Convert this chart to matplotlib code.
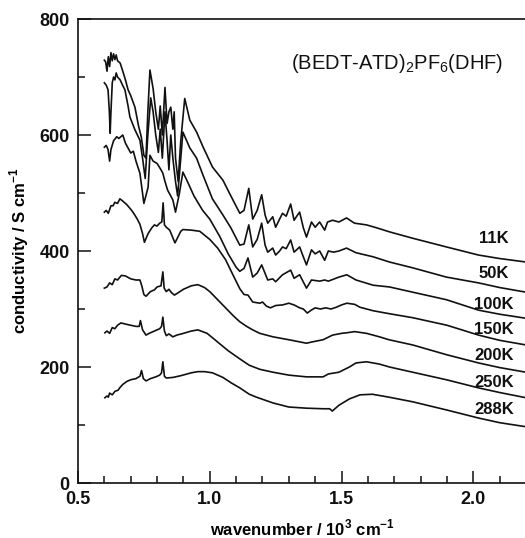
import numpy as np
import matplotlib
matplotlib.use("Agg")
import matplotlib.pyplot as plt

# (wavenumber / 10^3 cm^-1, conductivity / S cm^-1)
k11 = [(0.600, 729), (0.605, 726), (0.610, 710), (0.615, 735), (0.620, 718), (0.625, 742),
       (0.630, 728), (0.635, 740), (0.640, 730), (0.645, 738), (0.650, 728), (0.660, 724),
       (0.670, 710), (0.680, 695), (0.690, 678), (0.700, 668), (0.716, 648), (0.730, 615),
       (0.740, 597), (0.750, 565), (0.758, 560), (0.765, 640), (0.773, 712), (0.785, 680),
       (0.795, 640), (0.805, 610), (0.812, 650), (0.820, 600), (0.830, 682), (0.838, 620),
       (0.845, 640), (0.852, 648), (0.860, 610), (0.865, 640), (0.870, 560), (0.880, 520),
       (0.890, 590), (0.905, 663), (0.924, 626), (0.950, 605), (0.975, 579), (1.010, 545),
       (1.050, 522), (1.080, 495), (1.114, 465), (1.130, 470), (1.148, 508), (1.163, 455),
       (1.180, 470), (1.197, 497), (1.210, 462), (1.220, 448), (1.239, 459), (1.250, 441),
       (1.265, 455), (1.276, 465), (1.290, 460), (1.307, 481), (1.320, 453), (1.330, 460),
       (1.341, 467), (1.355, 440), (1.367, 424), (1.386, 450), (1.400, 441), (1.417, 450),
       (1.436, 436), (1.447, 450), (1.466, 453), (1.490, 450), (1.519, 457), (1.549, 448),
       (1.595, 445), (1.633, 440), (1.682, 433), (1.770, 422), (1.898, 407), (2.020, 393),
       (2.100, 387), (2.200, 381)]

k50 = [(0.600, 690), (0.607, 686), (0.614, 678), (0.619, 640), (0.622, 603), (0.625, 640),
       (0.630, 690), (0.635, 700), (0.640, 695), (0.645, 707), (0.650, 700), (0.660, 695),
       (0.670, 685), (0.678, 678), (0.690, 650), (0.697, 631), (0.716, 609), (0.735, 591),
       (0.745, 560), (0.755, 525), (0.765, 600), (0.776, 664), (0.785, 640), (0.795, 600),
       (0.805, 570), (0.812, 610), (0.820, 560), (0.830, 640), (0.838, 590), (0.845, 540),
       (0.852, 600), (0.860, 560), (0.870, 520), (0.878, 495), (0.890, 560), (0.898, 605),
       (0.924, 578), (0.950, 560), (0.975, 530), (1.010, 490), (1.050, 462), (1.080, 440),
       (1.114, 410), (1.130, 412), (1.148, 445), (1.163, 407), (1.180, 420), (1.197, 448),
       (1.210, 410), (1.220, 398), (1.239, 405), (1.250, 393), (1.265, 400), (1.276, 407),
       (1.290, 404), (1.307, 419), (1.320, 398), (1.341, 407), (1.355, 390), (1.367, 376),
       (1.386, 402), (1.400, 395), (1.417, 400), (1.436, 384), (1.450, 400), (1.470, 398),
       (1.490, 400), (1.519, 405), (1.555, 397), (1.620, 390), (1.682, 381), (1.770, 371),
       (1.898, 355), (2.020, 345), (2.100, 337), (2.200, 329)]

k100 = [(0.600, 579), (0.607, 582), (0.614, 575), (0.620, 555), (0.625, 575), (0.635, 590),
        (0.647, 597), (0.655, 594), (0.670, 600), (0.680, 586), (0.700, 569), (0.710, 572),
        (0.720, 555), (0.735, 534), (0.750, 482), (0.766, 510), (0.773, 565), (0.785, 555),
        (0.800, 551), (0.815, 540), (0.822, 534), (0.830, 520), (0.840, 505), (0.860, 488),
        (0.870, 467), (0.885, 500), (0.898, 536), (0.913, 522), (0.940, 495), (0.973, 470),
        (1.000, 455), (1.038, 425), (1.070, 395), (1.100, 372), (1.114, 365), (1.130, 370),
        (1.145, 388), (1.163, 355), (1.180, 362), (1.197, 376), (1.220, 350), (1.239, 352),
        (1.250, 347), (1.276, 359), (1.307, 367), (1.320, 353), (1.341, 359), (1.367, 336),
        (1.386, 350), (1.417, 348), (1.436, 350), (1.450, 348), (1.490, 355), (1.520, 359),
        (1.555, 350), (1.620, 341), (1.682, 338), (1.770, 329), (1.898, 316), (2.020, 298),
        (2.100, 291), (2.200, 284)]

k150 = [(0.600, 467), (0.607, 470), (0.615, 465), (0.625, 478), (0.633, 478), (0.640, 484),
        (0.650, 482), (0.659, 490), (0.670, 486), (0.685, 480), (0.700, 472), (0.710, 466),
        (0.725, 455), (0.735, 446), (0.745, 430), (0.752, 415), (0.766, 430), (0.780, 440),
        (0.790, 445), (0.800, 443), (0.810, 448), (0.818, 450), (0.823, 483), (0.828, 445),
        (0.835, 441), (0.848, 436), (0.858, 425), (0.868, 414), (0.879, 424), (0.890, 434),
        (0.898, 437), (0.930, 436), (0.962, 434), (1.000, 420), (1.030, 405), (1.060, 385),
        (1.090, 357), (1.114, 335), (1.130, 325), (1.145, 324), (1.163, 312), (1.190, 310),
        (1.200, 312), (1.215, 305), (1.230, 302), (1.250, 306), (1.276, 307), (1.300, 310),
        (1.320, 307), (1.341, 302), (1.355, 300), (1.370, 293), (1.385, 298), (1.400, 302),
        (1.420, 300), (1.440, 302), (1.460, 300), (1.480, 303), (1.500, 307), (1.520, 310),
        (1.550, 308), (1.570, 303), (1.620, 297), (1.680, 292), (1.770, 285), (1.900, 272),
        (2.020, 255), (2.100, 246), (2.200, 238)]

k200 = [(0.600, 336), (0.610, 338), (0.620, 345), (0.630, 342), (0.640, 352), (0.650, 350),
        (0.665, 358), (0.680, 357), (0.700, 352), (0.720, 350), (0.735, 350), (0.742, 340),
        (0.750, 325), (0.758, 322), (0.775, 330), (0.790, 333), (0.800, 338), (0.815, 340),
        (0.822, 364), (0.827, 336), (0.835, 330), (0.845, 334), (0.855, 328), (0.866, 324),
        (0.880, 328), (0.900, 334), (0.930, 340), (0.955, 342), (0.980, 337), (1.000, 330),
        (1.030, 316), (1.060, 302), (1.090, 288), (1.114, 278), (1.140, 270), (1.163, 264),
        (1.190, 258), (1.240, 252), (1.300, 247), (1.367, 241), (1.386, 243), (1.430, 247),
        (1.466, 255), (1.500, 258), (1.520, 259), (1.550, 261), (1.595, 258), (1.644, 252),
        (1.680, 247), (1.770, 238), (1.900, 221), (2.020, 207), (2.100, 199), (2.200, 191)]

k250 = [(0.602, 259), (0.610, 262), (0.620, 258), (0.630, 268), (0.640, 266), (0.650, 272),
        (0.663, 276), (0.680, 274), (0.700, 272), (0.720, 270), (0.732, 270), (0.737, 280),
        (0.745, 264), (0.758, 255), (0.770, 258), (0.790, 262), (0.810, 266), (0.817, 270),
        (0.822, 286), (0.828, 262), (0.835, 254), (0.845, 257), (0.860, 252), (0.875, 255),
        (0.900, 258), (0.930, 262), (0.955, 264), (0.990, 258), (1.030, 243), (1.070, 228),
        (1.114, 214), (1.150, 203), (1.190, 196), (1.240, 191), (1.300, 186), (1.367, 183),
        (1.430, 183), (1.450, 188), (1.490, 191), (1.530, 200), (1.555, 207), (1.595, 209),
        (1.644, 205), (1.682, 200), (1.770, 191), (1.898, 178), (2.020, 164), (2.100, 156),
        (2.200, 147)]

k288 = [(0.602, 147), (0.610, 150), (0.615, 148), (0.620, 155), (0.630, 152), (0.640, 158),
        (0.652, 160), (0.660, 165), (0.670, 170), (0.685, 175), (0.700, 178), (0.720, 180),
        (0.735, 184), (0.741, 194), (0.748, 180), (0.758, 176), (0.775, 180), (0.795, 183),
        (0.810, 186), (0.817, 190), (0.822, 209), (0.828, 184), (0.835, 181), (0.860, 182),
        (0.890, 185), (0.930, 190), (0.955, 192), (0.980, 192), (1.010, 190), (1.050, 182),
        (1.080, 173), (1.114, 164), (1.150, 153), (1.177, 148), (1.240, 138), (1.300, 131),
        (1.367, 129), (1.430, 128), (1.455, 128), (1.465, 124), (1.490, 134), (1.530, 145),
        (1.570, 152), (1.617, 153), (1.680, 148), (1.770, 140), (1.898, 126), (2.020, 112),
        (2.100, 104), (2.200, 97)]

spectra = [k11, k50, k100, k150, k200, k250, k288]
temp_labels = ['11K', '50K', '100K', '150K', '200K', '250K', '288K']
label_y = [422, 362, 307, 264, 219, 174, 126]

plt.rcParams['font.family'] = ['Liberation Sans', 'DejaVu Sans']
plt.rcParams['mathtext.fontset'] = 'custom'
plt.rcParams['mathtext.rm'] = 'Liberation Sans'
plt.rcParams['mathtext.bf'] = 'Liberation Sans:bold'

fig = plt.figure(figsize=(5.25, 5.38), dpi=100)
ax = fig.add_axes([78 / 525, 55 / 538, 448 / 525, 464 / 538])

for spec in spectra:
    arr = np.array(spec, dtype=float)
    ax.plot(arr[:, 0], arr[:, 1], color='#111111', lw=1.2)

for lab, ly in zip(temp_labels, label_y):
    ax.text(2.079, ly, lab, ha='center', va='center', fontsize=12,
            fontweight='bold', color='#111111')

ax.text(1.71, 724, r'(BEDT-ATD)$_\mathregular{2}$PF$_\mathregular{6}$(DHF)',
        ha='center', va='center', fontsize=14.5, color='#111111')

ax.set_xlim(0.5, 2.2)
ax.set_ylim(0, 800)
ax.set_xticks([0.5, 1.0, 1.5, 2.0])
ax.set_xticklabels(['0.5', '1.0', '1.5', '2.0'])
ax.set_xticks(np.arange(0.6, 2.2, 0.1), minor=True)
ax.set_yticks([0, 200, 400, 600, 800])
ax.set_yticks([100, 300, 500, 700], minor=True)
ax.tick_params(which='both', direction='in', width=1.1, colors='#111111',
               labelsize=13, top=False, right=False)
ax.tick_params(which='major', length=9, pad=6)
ax.tick_params(which='minor', length=5)
for lab in ax.get_xticklabels() + ax.get_yticklabels():
    lab.set_fontweight('bold')

ax.spines['right'].set_visible(False)
for s in ['left', 'bottom', 'top']:
    ax.spines[s].set_linewidth(1.2)
    ax.spines[s].set_color('#111111')

ax.set_xlabel(r'wavenumber / 10$^\mathbf{3}$ cm$^\mathbf{-1}$', fontsize=12,
              fontweight='bold', labelpad=7)
ax.set_ylabel(r'conductivity / S cm$^\mathbf{-1}$', fontsize=12,
              fontweight='bold', labelpad=6)

fig.savefig('out.png', dpi=100)
